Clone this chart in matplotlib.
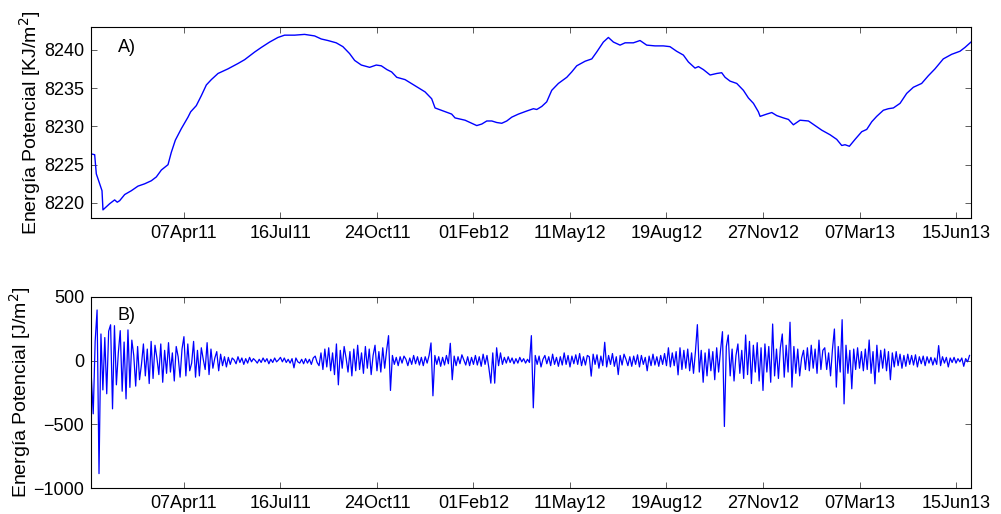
import matplotlib as mpl
mpl.use('Agg')
import matplotlib.pyplot as plt
import matplotlib.dates as mdates
from matplotlib.ticker import FixedLocator
import numpy as np

plt.rcParams['font.family'] = ['Liberation Sans', 'DejaVu Sans']

# start of record
t0 = '2011-01-01'

# A) potential energy, (days since t0, KJ/m2)
days_a = [0, 3.5, 5.2, 8.7, 11.1, 12.1, 15.6, 19, 24.2, 26.9, 29.4, 34.6, 41.5, 48.4,
          55.3, 62.2, 67.4, 72.6, 79.5, 82.9, 87.1, 93.3, 100.2, 103, 108.8, 114,
          119.2, 124.4, 131.3, 141.6, 152, 158.9, 169.3, 176.2, 184.8, 193.4, 200.3,
          210.7, 221, 231.4, 238.3, 245.2, 253.8, 260.7, 267.6, 272.9, 279.8, 288.4,
          295.3, 300.5, 306.4, 311.2, 316.5, 325.1, 335.4, 345.8, 352.7, 356.2,
          364.8, 373.4, 376.9, 387.3, 394.2, 399.4, 404.6, 409.8, 415, 420.1, 425.3,
          430.5, 435.7, 442.6, 451.2, 458.1, 461.6, 466.8, 471.9, 477.1, 484, 492.7,
          497.8, 503, 511.7, 518.6, 523.7, 530.6, 535.8, 541, 547.9, 553.1, 561.7,
          568.6, 575.5, 584.1, 592.7, 599.6, 606.5, 613.5, 618.7, 625.6, 629.1,
          634.3, 641.2, 648.1, 653.2, 656.7, 661.9, 668.8, 675.7, 680.9, 686.1,
          691.2, 693, 699.9, 705.1, 710.3, 717.2, 722.4, 727.5, 734.4, 743.1, 750,
          756.9, 765.5, 772.4, 777.6, 781, 785.5, 791.4, 798.3, 803.5, 808.7, 813.8,
          820.7, 825.9, 831.1, 838, 844.9, 851.8, 860.4, 867.3, 874.2, 882.8, 891.5,
          900.1, 905.3, 911.5]
energy_a = [8226.4, 8226.3, 8223.8, 8222.5, 8221.6, 8219.1, 8219.5, 8219.9, 8220.4,
            8220.1, 8220.3, 8221.1, 8221.6, 8222.2, 8222.5, 8222.9, 8223.4, 8224.3,
            8225.0, 8226.6, 8228.2, 8229.7, 8231.2, 8231.9, 8232.7, 8234.0, 8235.4,
            8236.1, 8236.9, 8237.5, 8238.2, 8238.7, 8239.7, 8240.3, 8241.0, 8241.6,
            8241.9, 8241.9, 8242.0, 8241.8, 8241.4, 8241.2, 8240.9, 8240.4, 8239.5,
            8238.6, 8238.0, 8237.7, 8238.0, 8237.9, 8237.4, 8237.1, 8236.4, 8236.1,
            8235.3, 8234.5, 8233.6, 8232.4, 8232.0, 8231.6, 8231.1, 8230.8, 8230.4,
            8230.1, 8230.3, 8230.7, 8230.7, 8230.5, 8230.4, 8230.7, 8231.2, 8231.6,
            8232.0, 8232.3, 8232.2, 8232.6, 8233.2, 8234.7, 8235.6, 8236.4, 8237.1,
            8237.9, 8238.5, 8238.8, 8239.7, 8241.0, 8241.6, 8241.0, 8240.6, 8240.9,
            8240.9, 8241.2, 8240.6, 8240.5, 8240.5, 8240.4, 8239.8, 8239.3, 8238.4,
            8237.6, 8237.8, 8237.4, 8236.7, 8236.9, 8237.0, 8236.4, 8235.9, 8235.6,
            8234.7, 8233.7, 8233.0, 8231.9, 8231.3, 8231.6, 8231.8, 8231.4, 8231.1,
            8230.9, 8230.2, 8230.8, 8230.7, 8230.1, 8229.5, 8228.9, 8228.3, 8227.5,
            8227.6, 8227.4, 8228.3, 8229.3, 8229.6, 8230.6, 8231.3, 8232.1, 8232.3,
            8232.4, 8233.0, 8234.3, 8235.1, 8235.6, 8236.6, 8237.5, 8238.8, 8239.4,
            8239.8, 8240.3, 8241.0]

# B) anomaly, J/m2, one value every 2 days from t0
step_b = 2
anom_b = [
    -120, -417, 150, 396, -885, 208, -230, 180, -260, 230,
    280, -378, 273, -190, 60, 234, -240, 145, -300, 240,
    -210, 160, 40, -200, 110, -150, -30, 130, -120, 90,
    -180, 150, -140, 120, 20, -110, 130, -170, 80, -100,
    140, -90, 60, -160, 110, 30, -130, 90, 187, -120,
    130, -80, -20, 150, -130, 80, -120, 100, 10, -70,
    140, -110, 90, -60, 20, 70, -80, 50, -40, 30,
    -50, 25, -30, 20, 5, -25, 30, -15, 20, -30,
    15, -20, 25, -10, 15, 0, -20, 10, -15, 20,
    -10, 15, -25, 10, -15, 20, -10, 5, 25, -10,
    20, -15, 10, -20, 15, -57, 20, -10, -20, 10,
    -25, 15, -20, 10, -30, 20, 35, -15, -40, 60,
    -70, 90, -50, 100, -80, 60, -110, 130, -190, 80,
    -60, 110, 20, -90, 70, -120, 90, -80, 120, -70,
    60, -100, 110, -60, 90, -110, 40, 120, -80, 70,
    -90, 100, -60, 80, 195, -234, 40, -30, 25, -40,
    30, -20, 35, 10, -40, 20, -30, 40, -25, 30,
    -35, 25, -40, 30, -20, 40, 138, -276, 40, -30,
    30, -45, 25, -35, 40, -25, 135, -150, 35, -40,
    30, -25, 45, 5, -35, 30, -40, 25, -30, 40,
    -35, 30, -45, 50, -30, 40, -60, -177, 60, -177,
    100, -40, 60, -30, 25, -20, 30, -15, 20, -25,
    15, -20, 25, -10, 15, -20, 10, -15, 195, -370,
    40, -30, 35, -50, 10, 40, -25, 30, -40, 50,
    -30, 25, -45, 30, -35, 60, -30, 40, -50, 35,
    -25, 45, -30, 55, -40, 30, -35, 40, 30, -122,
    50, -30, 45, -60, 35, -40, 143, -50, 40, -30,
    55, -45, 30, -110, 40, -35, 50, 10, -40, 30,
    -45, 35, -30, 45, -50, 40, -30, 25, -80, 35,
    -40, 50, -35, 30, -45, 40, -30, 55, -40, 100,
    -50, 60, -40, 70, -112, 100, -70, 80, -60, 90,
    -80, 60, -100, 70, 281, -90, 80, -170, 60, -120,
    90, -80, 70, -150, 100, -90, 80, 226, -516, 110,
    200, -120, 90, -160, 40, 130, -100, 80, -140, 200,
    -110, 150, -180, 120, -90, 140, -160, 100, -234, 130,
    -90, 110, -170, 286, -120, 90, -140, 100, 208, -130,
    120, -90, 300, -208, 110, -100, 90, -120, 20, 80,
    -70, 100, -80, 120, -60, 90, -100, 160, -70, 80,
    100, -70, 60, -120, 90, 247, -208, 110, -90, 320,
    -339, 120, -100, 80, -221, 90, -70, 100, -60, 70,
    -80, 90, -70, 161, -100, 70, -182, 120, -90, 80,
    -60, 90, -80, 70, -150, 60, -50, 70, -40, 50,
    -60, 40, -45, 50, -30, 40, -35, 45, -50, 30,
    -25, 35, -40, 30, -20, 25, -35, 20, -30, 117,
    -40, 30, -20, 25, -50, 20, -15, 25, -20, 15,
    -10, 20, -45, 15, -10, 40,
]

tick_dates = ['2011-04-07', '2011-07-16', '2011-10-24', '2012-02-01', '2012-05-11',
              '2012-08-19', '2012-11-27', '2013-03-07', '2013-06-15']

# ----------------------------------------------------------------------

t0_num = mdates.datestr2num(t0)
x_a = t0_num + np.array(days_a)
x_b = t0_num + step_b * np.arange(len(anom_b))
ticks = mdates.datestr2num(tick_dates)

fig = plt.figure(figsize=(10.01, 5.14), dpi=100)
ax1 = fig.add_axes([0.0912, 0.5753, 0.8788, 0.3727])
ax2 = fig.add_axes([0.0912, 0.0500, 0.8788, 0.3728])

ax1.plot(x_a, energy_a, color='#0000ff', lw=1.0)
ax2.plot(x_b, anom_b, color='#0000ff', lw=0.9)

ax1.set_ylim(8218, 8243)
ax1.set_yticks([8220, 8225, 8230, 8235, 8240])
ax2.set_ylim(-1000, 500)
ax2.set_yticks([-1000, -500, 0, 500])

for ax in (ax1, ax2):
    ax.set_xlim(t0_num, t0_num + 911.5)
    ax.xaxis.set_major_locator(FixedLocator(ticks))
    ax.xaxis.set_major_formatter(mdates.DateFormatter('%d%b%y'))
    ax.tick_params(direction='in', top=True, right=True, length=4, width=0.6,
                   color='#444444', labelsize=13, pad=5)
    for s in ax.spines.values():
        s.set_linewidth(0.8)

ax1.set_ylabel('Energía Potencial [KJ/m$^2$]', fontsize=14)
ax2.set_ylabel('Energía Potencial [J/m$^2$]', fontsize=14)
ax1.yaxis.set_label_coords(-0.0549, 0.5)
ax2.yaxis.set_label_coords(-0.0663, 0.5)

ax1.text(0.03, 0.894, 'A)', transform=ax1.transAxes, fontsize=13, va='center')
ax2.text(0.03, 0.90, 'B)', transform=ax2.transAxes, fontsize=13, va='center')

plt.savefig('out.png', dpi=100)
